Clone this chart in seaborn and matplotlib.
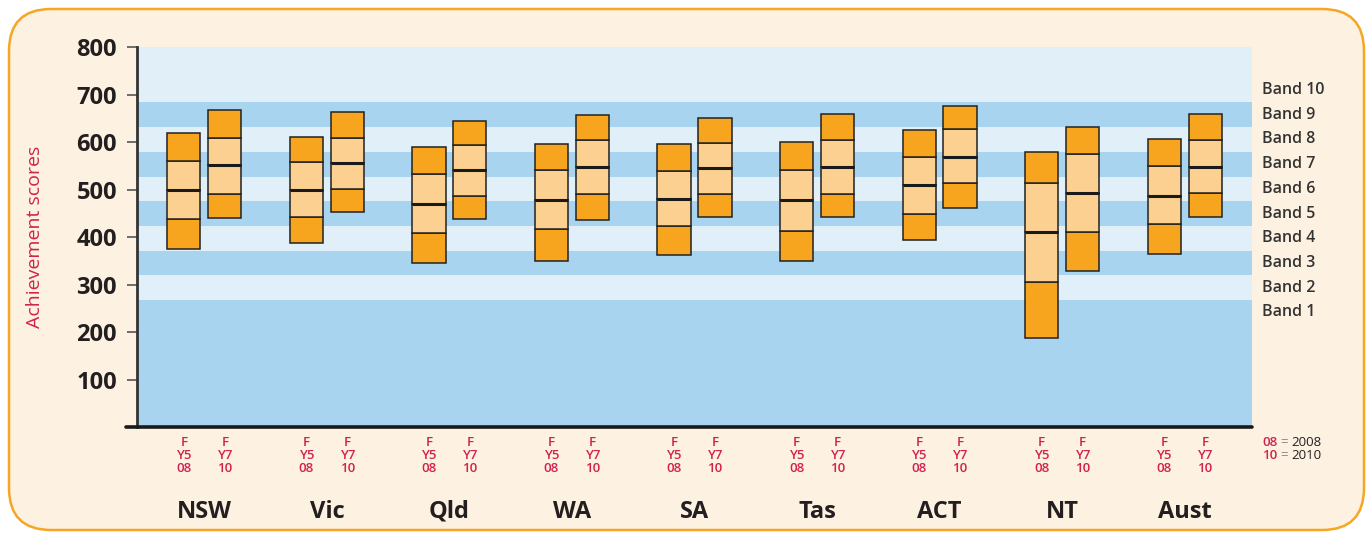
import matplotlib
matplotlib.use('Agg')
import matplotlib.pyplot as plt
from matplotlib.patches import FancyBboxPatch
import seaborn as sns
import numpy as np

# data: percentile bands (5th, 25th, 50th, 75th, 95th) of achievement scores
states = ["NSW", "Vic", "Qld", "WA", "SA", "Tas", "ACT", "NT", "Aust"]

y5_p5 = [376, 387, 346, 350, 363, 351, 394, 189, 364]
y5_p25 = [438, 443, 410, 418, 424, 414, 450, 305, 428]
y5_p50 = [500, 500, 471, 479, 481, 479, 510, 412, 488]
y5_p75 = [561, 558, 534, 542, 540, 541, 570, 515, 551]
y5_p95 = [619, 611, 590, 596, 596, 600, 625, 579, 608]

y7_p5 = [441, 454, 438, 437, 443, 442, 461, 330, 442]
y7_p25 = [491, 502, 486, 491, 492, 492, 514, 411, 493]
y7_p50 = [552, 557, 541, 548, 546, 549, 570, 493, 549]
y7_p75 = [610, 610, 594, 605, 599, 605, 627, 575, 605]
y7_p95 = [669, 663, 645, 658, 651, 660, 676, 633, 660]

band_edges = [0, 268, 320, 372, 424, 476, 528, 580, 632, 684, 800]
band_labels = ["Band %d" % i for i in range(1, 11)]
group_labels = [["F", "Y5", "08"], ["F", "Y7", "10"]]

sns.set_theme(style="white")
plt.rcParams['font.family'] = ['Open Sans', 'DejaVu Sans']

cream = '#fdf2e2'
orange_edge = '#f6a623'
band_dark = '#a9d4ef'
band_light = '#e1eff9'
dark_orange = '#f7a51e'
light_orange = '#fcd090'
red = '#d2214e'
ink = '#231f20'

fig = plt.figure(figsize=(13.7, 5.33), dpi=100)
fig.patch.set_facecolor('white')

bg = fig.add_axes([0, 0, 1, 1])
bg.set_xlim(0, 1370)
bg.set_ylim(533, 0)
bg.axis('off')
bg.add_patch(FancyBboxPatch((9, 9), 1355, 521,
                            boxstyle="round,pad=0,rounding_size=42",
                            fc=cream, ec=orange_edge, lw=1.8))

ax = fig.add_axes([137 / 1370, 1 - 427.3 / 533, 1115 / 1370, 380 / 533])
ax.set_facecolor('none')

for i, (lo, hi) in enumerate(zip(band_edges[:-1], band_edges[1:])):
    ax.axhspan(lo, hi, color=band_dark if i % 2 == 0 else band_light, lw=0, zorder=0)

x = np.arange(len(states))
w = 0.27
offsets = [-0.167, 0.167]
series = [(y5_p5, y5_p25, y5_p50, y5_p75, y5_p95),
          (y7_p5, y7_p25, y7_p50, y7_p75, y7_p95)]

for off, pcts in zip(offsets, series):
    p5, p25, p50, p75, p95 = [np.array(p) for p in pcts]
    xs = x + off
    segs = [(p5, p25, dark_orange), (p25, p50, light_orange),
            (p50, p75, light_orange), (p75, p95, dark_orange)]
    for lo, hi, c in segs:
        ax.bar(xs, hi - lo, bottom=lo, width=w, color=c,
               edgecolor='#222222', linewidth=1.1, zorder=3)
    ax.hlines(p50, xs - w / 2, xs + w / 2, color='#1a1a1a', lw=2.2, zorder=4)

ax.set_xlim(-0.55, len(states) - 0.45)
ax.set_ylim(0, 800)
ax.set_xticks([])
ax.set_yticks(range(0, 801, 100))
ax.set_yticklabels([''] + [str(v) for v in range(100, 801, 100)],
                   fontsize=17, fontweight='bold', color=ink)
ax.tick_params(axis='y', length=7.5, width=1.2, color='#555555', pad=7, left=True)

sns.despine(ax=ax, top=True, right=True, bottom=True)
ax.spines['left'].set_color('#333333')
ax.spines['left'].set_linewidth(2)
ax.axhline(0, xmin=-0.01, xmax=1, color='#1a1a1a', lw=2.6, clip_on=False, zorder=5)

ax.set_ylabel("Achievement scores", color=red, fontsize=14)
ax.yaxis.set_label_coords(-0.083, 0.5)

# band labels on the right
mids = [band_edges[1] - 25] + [(a + b) / 2 for a, b in zip(band_edges[1:-2], band_edges[2:-1])] + [band_edges[-2] + 26]
for lab, ym in zip(band_labels, mids):
    ax.text(1.009, ym, lab, transform=ax.get_yaxis_transform(), ha='left', va='center',
            fontsize=11.5, fontweight='semibold', color='#333333')

# category labels below
xt = ax.get_xaxis_transform()
line_y = [-0.040, -0.074, -0.108]
for off, lines in zip(offsets, group_labels):
    for xi in x:
        for ly, t in zip(line_y, lines):
            ax.text(xi + off, ly, t, transform=xt, ha='center', va='center',
                    fontsize=9.5, fontweight='semibold', color=red)
for xi, s in zip(x, states):
    ax.text(xi, -0.222, s, transform=xt, ha='center', va='center',
            fontsize=17, fontweight='bold', color=ink)

# year key
for ly, code, yr in zip(line_y[:2], ["08", "10"], ["2008", "2010"]):
    ax.text(1.009, ly, code, transform=ax.transAxes, ha='left', va='center',
            fontsize=9.5, fontweight='semibold', color=red)
    ax.text(1.0255, ly, "=", transform=ax.transAxes, ha='left', va='center',
            fontsize=9.5, color='#888888')
    ax.text(1.0355, ly, yr, transform=ax.transAxes, ha='left', va='center',
            fontsize=9.5, color=ink)

fig.savefig("out.png", dpi=100, facecolor=fig.get_facecolor())
plt.close(fig)
